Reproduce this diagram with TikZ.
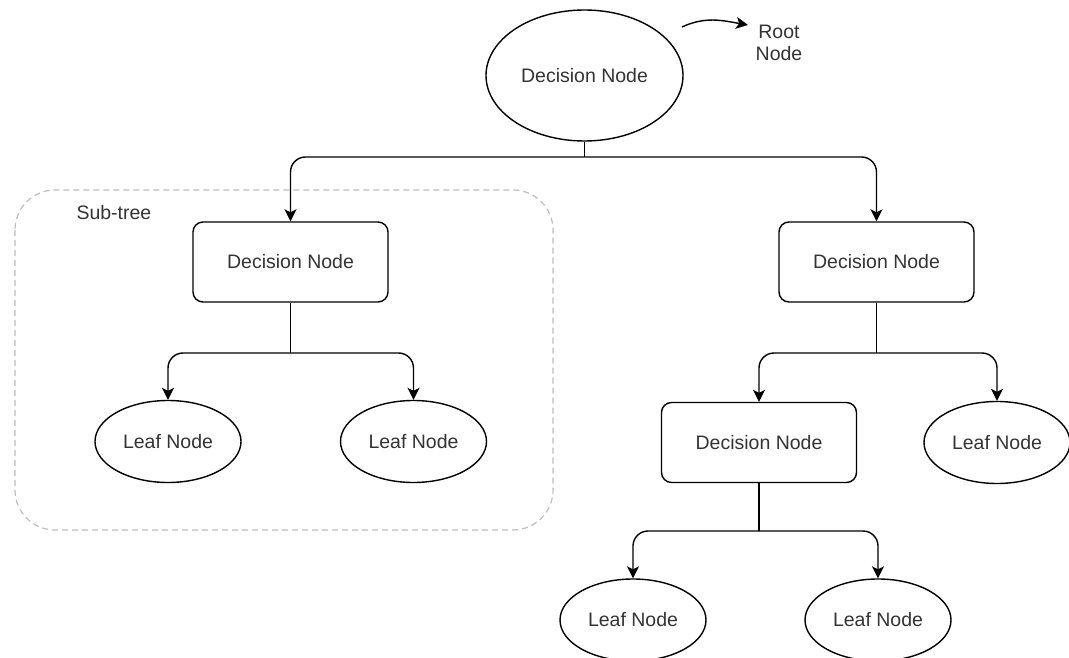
\documentclass[tikz,border=0pt]{standalone}
\usepackage{fontspec}
\setmainfont{Liberation Sans}
\usetikzlibrary{shapes.geometric,arrows.meta}
\definecolor{txt}{HTML}{333333}
\definecolor{subgray}{HTML}{BDBDBD}
\begin{document}
\begin{tikzpicture}[x=1pt,y=-1pt,
  every node/.style={font=\fontsize{19.5}{23}\selectfont, text=txt},
  decision/.style={draw, line width=1.4pt, rounded corners=10pt, minimum width=195pt, minimum height=80pt, inner sep=0pt},
  rootnode/.style={draw, line width=1.4pt, ellipse, minimum width=197pt, minimum height=131pt, inner sep=0pt},
  leaf/.style={draw, line width=1.4pt, ellipse, minimum width=146pt, minimum height=82pt, inner sep=0pt},
  link/.style={line width=1.4pt, rounded corners=15pt},
  tip/.style={-{Stealth[length=12pt,width=12pt,inset=3pt]}},
  arr/.style={link, tip}]
\useasboundingbox (0,0) rectangle (1069,658);

% sub-tree frame
\draw[subgray, line width=1.2pt, dash pattern=on 6pt off 4pt, rounded corners=40pt]
  (15,190) rectangle (553,530);
\node[anchor=west] (sublbl) at (73,213) {Sub-tree};

% nodes
\node[rootnode] (root) at (584.5,75.5) {Decision Node};
\node[align=center] (rootlbl) at (779,43) {Root\\[-1pt]Node};
\node[decision] (dl) at (290.5,262) {Decision Node};
\node[decision] (dr) at (876.5,262) {Decision Node};
\node[leaf] (l1) at (168,441.5) {Leaf Node};
\node[leaf] (l2) at (413.5,441.5) {Leaf Node};
\node[decision] (dm) at (759,442.5) {Decision Node};
\node[leaf] (l3) at (997,442.5) {Leaf Node};
\node[leaf] (l4) at (633,620) {Leaf Node};
\node[leaf] (l5) at (878,620) {Leaf Node};

% root annotation arrow
\coordinate (ra) at (682,27);
\coordinate (rb) at (748,25);
\draw[line width=1.4pt, tip] (ra) to[out=25,in=170] (rb);

% junction points of the elbow connectors
\coordinate (j0) at (584.5,157);
\coordinate (j1) at (290.5,353);
\coordinate (j2) at (876.5,353);
\coordinate (j3) at (759,531);

\draw[link] (root.south) -- (j0);
\draw[arr] (j0) -| (dl.north);
\draw[arr] (j0) -| (dr.north);

\draw[link] (dl.south) -- (j1);
\draw[arr] (j1) -| (l1.north);
\draw[arr] (j1) -| (l2.north);

\draw[link] (dr.south) -- (j2);
\draw[arr] (j2) -| (dm.north);
\draw[arr] (j2) -| (l3.north);

\draw[link] (dm.south) -- (j3);
\draw[arr] (j3) -| (l4.north);
\draw[arr] (j3) -| (l5.north);
\end{tikzpicture}
\end{document}
